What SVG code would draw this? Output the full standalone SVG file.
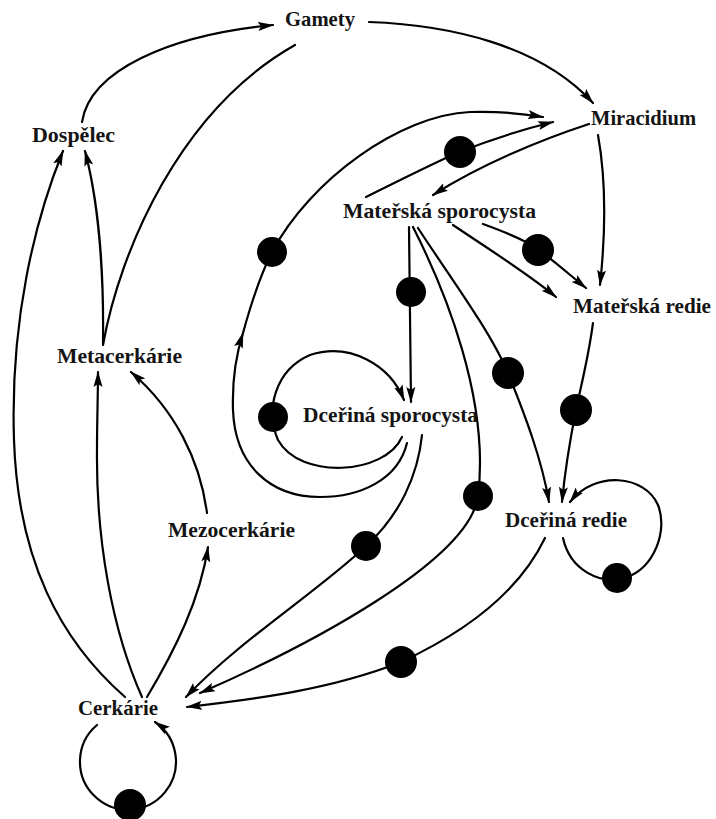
<svg xmlns="http://www.w3.org/2000/svg" width="716" height="819" viewBox="0 0 716 819">
<style>
.lbl{font-family:"Liberation Serif","Times New Roman",serif;font-weight:bold;font-size:21px;fill:#141414}
.c{fill:none;stroke:#000;stroke-width:2.2;stroke-linecap:round}
.arr{marker-end:url(#a)}
.dot{fill:#000}
</style>
<defs>
<marker id="a" viewBox="0 0 16 10" refX="15" refY="5" markerWidth="16" markerHeight="10" markerUnits="userSpaceOnUse" orient="auto">
<path d="M0,0.5 L16,5 L0,9.5 L3,5 z" fill="#000"/>
</marker>
</defs>
<rect width="716" height="819" fill="#fff"/>
<g id="connectors">
<path class="c arr" d="M82,122 C90,70 170,35 273,25"/>
<path class="c arr" d="M369,22 C450,25 540,45 593,103"/>
<path class="c" d="M103,345 C120,250 180,110 295,45"/>
<path class="c arr" d="M103,343 C104,270 98,200 85,151"/>
<path class="c arr" d="M125,697 C60,640 18,560 14,440 C10,320 35,220 63,151"/>
<path class="c arr" d="M142,697 C112,630 96,540 97,450 C97,420 98,395 98,372"/>
<path class="c arr" d="M147,697 C175,650 200,600 208,547"/>
<path class="c arr" d="M207,513 C200,460 175,410 131,372"/>
<path class="c arr" d="M97,725 A48,48 0 1 0 155,722"/>
<path class="c arr" d="M589,124 C540,140 480,165 433,195"/>
<path class="c arr" d="M366,197 C400,180 430,165 459,152 C490,140 520,130 553,122"/>
<path class="c arr" d="M598,135 C606,180 606,230 600,285"/>
<path class="c arr" d="M453,225 C490,250 530,275 556,297"/>
<path class="c arr" d="M483,224 C505,232 525,240 538,249 C555,262 570,275 586,288"/>
<path class="c arr" d="M409,227 L411,402"/>
<path class="c arr" d="M413,227 C445,290 490,400 478,496 C470,560 310,645 200,693"/>
<path class="c arr" d="M418,228 C445,270 490,330 508,373 C525,415 542,460 549,502"/>
<path class="c arr" d="M593,323 C588,360 580,390 576,410 C570,440 565,470 562,502"/>
<path class="c arr" d="M563,538 C570,570 600,585 625,578 C655,568 668,530 658,505 C645,475 595,470 570,502"/>
<path class="c arr" d="M402,437 C385,475 300,480 278,440 C265,410 275,370 310,355 C350,342 390,365 404,400"/>
<path class="c arr" d="M407,443 C398,480 360,497 320,497 C270,497 235,465 233,410 C232,380 236,355 243,333"/>
<path class="c arr" d="M243,333 C252,300 262,272 272,252 C310,180 400,115 470,112 C500,111 525,114 543,117"/>
<path class="c arr" d="M422,435 C418,475 400,515 366,546 C320,590 240,640 186,697"/>
<path class="c arr" d="M545,538 C520,590 470,630 401,662 C330,690 250,700 187,707"/>
<g id="dots">
<circle class="dot" cx="460" cy="152" r="16"/>
<circle class="dot" cx="538" cy="250" r="16"/>
<circle class="dot" cx="272" cy="252" r="15"/>
<circle class="dot" cx="411" cy="292" r="15"/>
<circle class="dot" cx="508" cy="373" r="16"/>
<circle class="dot" cx="576" cy="410" r="16"/>
<circle class="dot" cx="273" cy="417" r="15"/>
<circle class="dot" cx="478" cy="496" r="15"/>
<circle class="dot" cx="366" cy="546" r="15"/>
<circle class="dot" cx="617" cy="578" r="15"/>
<circle class="dot" cx="401" cy="662" r="16"/>
<circle class="dot" cx="130" cy="805" r="16"/>
</g>
</g>
<g id="gamety"><text class="lbl" x="285" y="26" textLength="70" lengthAdjust="spacingAndGlyphs">Gamety</text></g>
<g id="miracidium"><text class="lbl" x="591" y="125" textLength="105" lengthAdjust="spacingAndGlyphs">Miracidium</text></g>
<g id="dospelec"><text class="lbl" x="32" y="142" textLength="83" lengthAdjust="spacingAndGlyphs">Dospělec</text></g>
<g id="materska-sporocysta"><text class="lbl" x="343" y="218" textLength="193" lengthAdjust="spacingAndGlyphs">Mateřská sporocysta</text></g>
<g id="materska-redie"><text class="lbl" x="573" y="313" textLength="138" lengthAdjust="spacingAndGlyphs">Mateřská redie</text></g>
<g id="metacerkarie"><text class="lbl" x="57" y="363" textLength="125" lengthAdjust="spacingAndGlyphs">Metacerkárie</text></g>
<g id="dcerina-sporocysta"><text class="lbl" x="303" y="422" textLength="175" lengthAdjust="spacingAndGlyphs">Dceřiná sporocysta</text></g>
<g id="mezocerkarie"><text class="lbl" x="168" y="537" textLength="127" lengthAdjust="spacingAndGlyphs">Mezocerkárie</text></g>
<g id="dcerina-redie"><text class="lbl" x="505" y="527" textLength="122" lengthAdjust="spacingAndGlyphs">Dceřiná redie</text></g>
<g id="cerkarie"><text class="lbl" x="78" y="715" textLength="80" lengthAdjust="spacingAndGlyphs">Cerkárie</text></g>
</svg>
